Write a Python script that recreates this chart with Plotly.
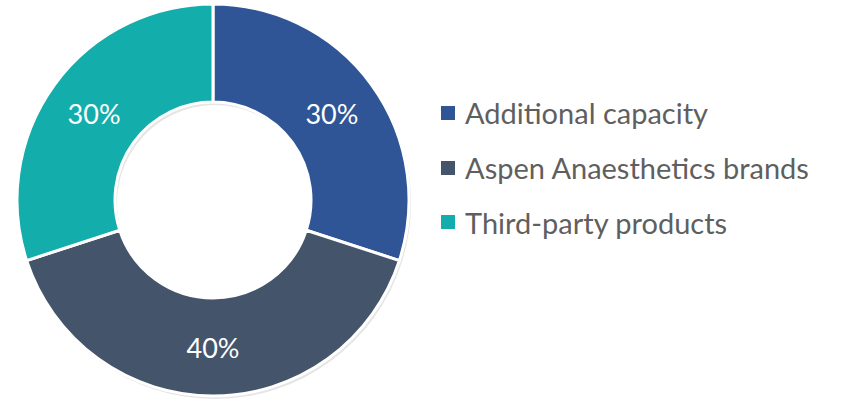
import plotly.graph_objects as go

labels = ["Additional capacity", "Aspen Anaesthetics brands", "Third-party products"]
values = [30, 40, 30]
colors = ["#2F5597", "#44546A", "#13AEAC"]

W, H = 841, 403
cx, cy, R = 213, 200, 196

def px_x(x):
    return min(max(x / W, 0), 1)

def px_y(y):
    return min(max(1 - y / H, 0), 1)

fig = go.Figure()

# soft shadow
fig.add_trace(go.Pie(
    labels=labels, values=values, sort=False, direction="clockwise", rotation=0,
    hole=0.5, marker=dict(colors=["rgba(0,0,0,0.10)"] * 3, line=dict(width=0)),
    domain=dict(x=[px_x(cx - R + 2), px_x(cx + R + 2)], y=[px_y(cy + R + 3), px_y(cy - R + 3)]),
    textinfo="none", hoverinfo="skip", showlegend=False,
))

fig.add_trace(go.Pie(
    labels=labels, values=values, sort=False, direction="clockwise", rotation=0,
    hole=0.5,
    marker=dict(colors=colors, line=dict(color="white", width=3)),
    domain=dict(x=[px_x(cx - R), px_x(cx + R)], y=[px_y(cy + R), px_y(cy - R)]),
    textinfo="percent", textposition="inside", insidetextorientation="horizontal",
    textfont=dict(family="Lato, sans-serif", size=27, color="white"),
    showlegend=False,
))

# legend built from data
rows_y = [113, 168, 222]
shapes = []
annotations = []
for lab, col, ry in zip(labels, colors, rows_y):
    shapes.append(dict(type="rect", xref="paper", yref="paper",
                       x0=px_x(441), x1=px_x(455), y0=px_y(ry + 7), y1=px_y(ry - 7),
                       fillcolor=col, line=dict(width=0)))
    annotations.append(dict(text=lab, xref="paper", yref="paper", x=px_x(463), y=px_y(ry),
                            xanchor="left", yanchor="middle", showarrow=False,
                            font=dict(family="Lato, sans-serif", size=29, color="#5f5f5f")))

fig.update_layout(
    width=W, height=H, margin=dict(l=0, r=0, t=0, b=0),
    paper_bgcolor="white", plot_bgcolor="white",
    shapes=shapes, annotations=annotations,
)

fig.write_html("out.html", config={"displayModeBar": False},
               post_script="document.body.style.margin='0';document.body.style.padding='0';")
